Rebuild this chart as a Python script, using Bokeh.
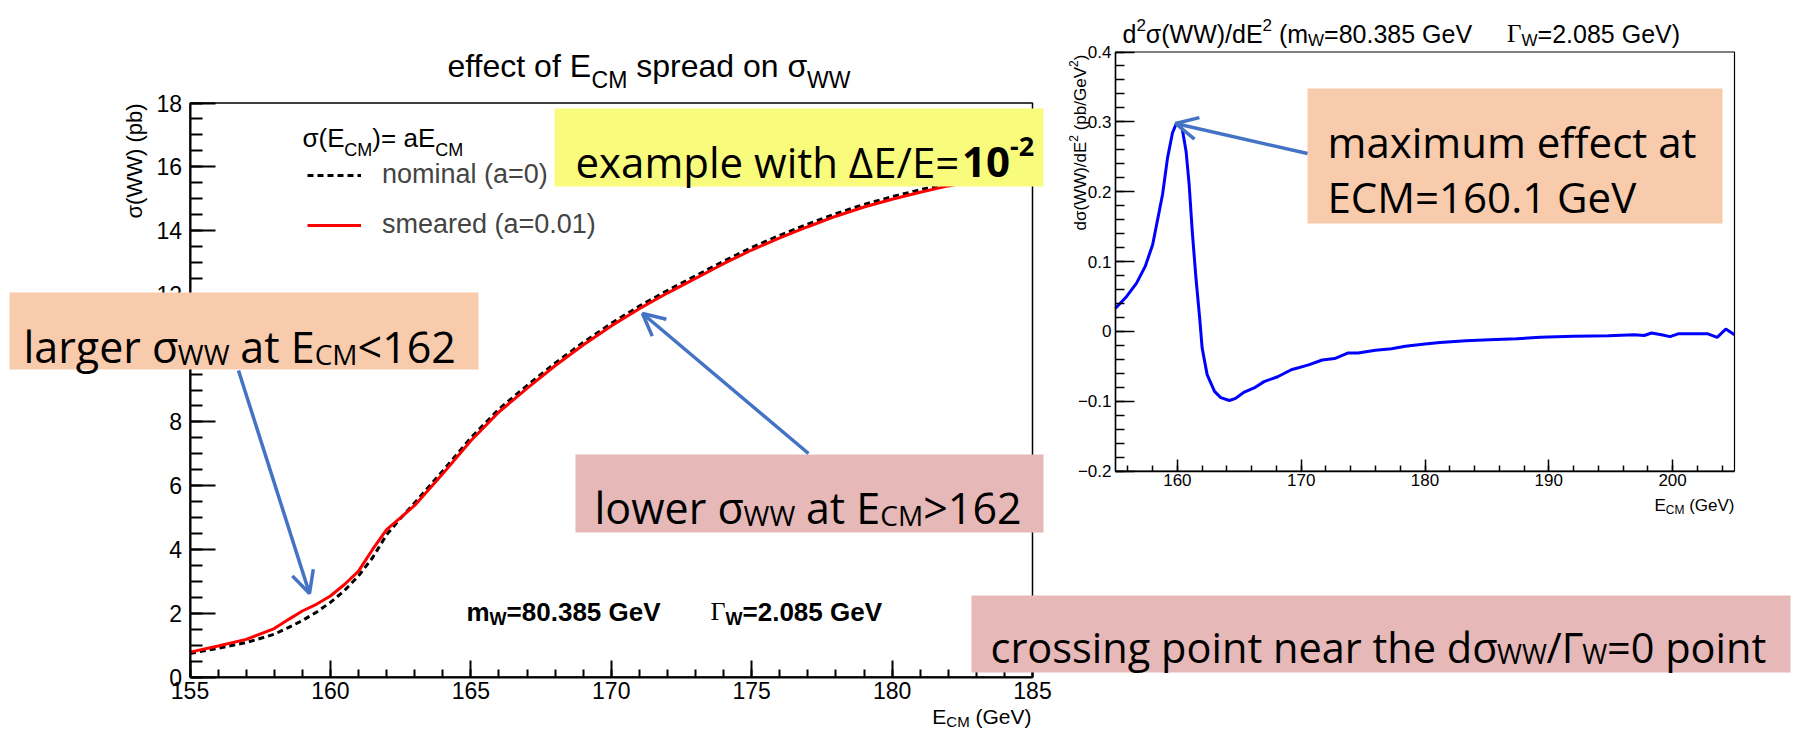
from bokeh.plotting import figure
from bokeh.models import (Range1d, LinearAxis, SingleIntervalTicker, Label, Arrow, OpenHead,
                          Legend, LegendItem, CustomJSTickFormatter, BoxAnnotation)
from bokeh.embed import file_html
from bokeh.resources import INLINE

# ---------------- data ----------------
# left panel: sigma(WW) vs E_CM
E_LEFT = [155, 156, 157, 158, 158.5, 159, 159.5, 160, 160.5, 161, 161.5, 162, 162.5, 163,
          164, 165, 166, 167, 168, 169, 170, 171, 172, 173, 174, 175, 176, 177, 178, 179,
          180, 181, 182, 183, 184, 185]
SIG_NOMINAL = [0.74, 0.90, 1.08, 1.34, 1.55, 1.77, 2.03, 2.34, 2.71, 3.17, 3.74, 4.46, 4.98, 5.46,
               6.46, 7.50, 8.40, 9.14, 9.84, 10.49, 11.09, 11.63, 12.12, 12.58, 13.04, 13.47, 13.85,
               14.20, 14.53, 14.82, 15.06, 15.28, 15.48, 15.66, 15.83, 15.98]
SIG_SMEARED = [0.78, 0.97, 1.18, 1.52, 1.80, 2.07, 2.28, 2.54, 2.90, 3.32, 4.00, 4.62, 5.00, 5.38,
               6.37, 7.41, 8.31, 9.05, 9.76, 10.41, 11.01, 11.55, 12.04, 12.50, 12.96, 13.39, 13.77,
               14.12, 14.45, 14.74, 14.98, 15.20, 15.40, 15.58, 15.75, 15.90]

# right panel: d2 sigma / dE2 vs E_CM
E_RIGHT = [155.0, 155.9, 156.7, 157.4, 158.0, 158.4, 158.8, 159.2, 159.6, 159.9, 160.1, 160.4,
           160.7, 160.95, 161.2, 161.5, 161.8, 162.0, 162.4, 163.0, 163.5, 164.2, 164.7, 165.4,
           166.2, 167.0, 168.1, 169.2, 170.6, 171.7, 172.7, 173.8, 174.6, 176.0, 177.3, 178.4,
           180.0, 181.2, 183.3, 185.2, 187.4, 189.3, 192.0, 194.8, 196.9, 197.7, 198.3, 199.1,
           199.8, 200.5, 202.8, 203.6, 204.3, 205.0]
D2SIG = [0.033, 0.050, 0.069, 0.093, 0.124, 0.160, 0.196, 0.248, 0.284, 0.297, 0.299, 0.289,
         0.258, 0.210, 0.143, 0.076, 0.019, -0.024, -0.062, -0.086, -0.095, -0.099, -0.096, -0.087,
         -0.081, -0.072, -0.065, -0.055, -0.048, -0.041, -0.039, -0.031, -0.031, -0.027, -0.025,
         -0.0215, -0.018, -0.016, -0.0134, -0.012, -0.0105, -0.0086, -0.0072, -0.0062, -0.0048,
         -0.006, -0.0024, -0.0048, -0.0076, -0.0033, -0.0033, -0.0086, 0.0033, -0.0048]

LEFT_X_LIM = (155, 185)
LEFT_Y_LIM = (0, 18)
RIGHT_X_LIM = (155, 205)
RIGHT_Y_LIM = (-0.2, 0.4)

# ---------------- layout helpers ----------------
W, H, M = 1819, 731, 0


def X(x):
    return x - M


def Y(y):
    return H + M - y


def mkrange(v0, v1, s0, s1, total):
    k = (v1 - v0) / (s1 - s0)
    return Range1d(v0 - s0 * k, v0 + (total - s0) * k)


p = figure(width=W, height=H, x_range=Range1d(0, W), y_range=Range1d(0, H),
           x_axis_type=None, y_axis_type=None, toolbar_location=None, output_backend="svg",
           min_border=0, min_border_left=0, min_border_right=0, min_border_top=0,
           min_border_bottom=0)
p.outline_line_color = None
p.background_fill_color = "white"
p.border_fill_color = "white"

# frames (reference pixel positions)
LF = dict(x0=189.5, x1=1032, y0=676.5, y1=102.5)
RF = dict(x0=1115, x1=1734, y0=470.5, y1=51.5)

p.extra_x_ranges = {"lx": mkrange(*LEFT_X_LIM, X(LF["x0"]), X(LF["x1"]), W),
                    "rx": mkrange(*RIGHT_X_LIM, X(RF["x0"]), X(RF["x1"]), W)}
p.extra_y_ranges = {"ly": mkrange(*LEFT_Y_LIM, Y(LF["y0"]), Y(LF["y1"]), H),
                    "ry": mkrange(*RIGHT_Y_LIM, Y(RF["y0"]), Y(RF["y1"]), H)}

# ---------------- text metrics (per-mille em) ----------------
def _table(groups):
    t = {}
    for chars, w in groups:
        for c in chars:
            t[c] = w
    return t


HELV = _table([("0123456789", 556), (" ", 278), ("()", 333), ("=<>", 584), (".,/", 278), ("-", 333),
               ("abdeghnopqu", 556), ("ckvxyzs", 500), ("ft", 278), ("ijl", 222), ("r", 333),
               ("m", 833), ("w", 722), ("ABEKPSVXY", 667), ("CDHNRU", 722), ("GOQ", 778),
               ("FTZ", 611), ("I", 278), ("J", 500), ("L", 556), ("M", 833), ("W", 944),
               ("σ", 610), ("Γ", 556), ("Δ", 668)])
HELVB = _table([("0123456789", 556), (" ", 278), ("()", 333), ("=<>", 584), (".,/", 278), ("-", 333),
                ("aceksvxy", 556), ("bdghnopqu", 611), ("ft", 333), ("ijl", 278), ("r", 389),
                ("m", 889), ("w", 778), ("z", 500), ("EPSVXY", 667), ("ABCDHKNRU", 722),
                ("GOQ", 778), ("FTZ", 611), ("I", 278), ("M", 833), ("W", 944)])
TIMES = _table([("Γ", 578)])
OS = _table([("0123456789", 572), (" ", 260), ("=<>", 572), (".", 266), ("/", 367), ("-", 322),
             ("a", 556), ("bdpnhu", 613), ("c", 476), ("e", 561), ("f", 339), ("g", 548),
             ("il", 253), ("m", 930), ("o", 604), ("r", 408), ("s", 477), ("t", 353), ("w", 784),
             ("x", 524), ("y", 502), ("E", 560), ("C", 631), ("M", 903), ("G", 695), ("V", 580),
             ("W", 915), ("σ", 596), ("Δ", 620), ("Γ", 495)])
METRICS = {("helv", False): HELV, ("helv", True): HELVB, ("times", False): TIMES,
           ("times", True): TIMES, ("os", False): OS, ("os", True): OS}
FONT = {"helv": "Liberation Sans", "times": "Liberation Serif", "os": "Open Sans"}


def tw(text, size, fam, bold):
    tab = METRICS[(fam, bold)]
    return sum(tab.get(c, 556) for c in text) / 1000.0 * size


def seg_width(segs):
    w = 0
    for text, size, dy, fam, bold in segs:
        w += size if text is None else tw(text, size, fam, bold)
    return w


def put(text, x, y, size, fam, bold, angle=0, align="left", baseline="alphabetic"):
    p.add_layout(Label(x=x, y=y, text=text, text_font=FONT[fam], text_font_size=f"{size}px",
                       text_font_style="bold" if bold else "normal", text_align=align,
                       text_baseline=baseline, text_color="black", angle=angle,
                       angle_units="deg"))


def rich(segs, x0, base):
    x = x0
    for text, size, dy, fam, bold in segs:
        if text is None:
            x += size
            continue
        lead = len(text) - len(text.lstrip(" "))
        x += tw(" " * lead, size, fam, bold)
        body = text.strip(" ")
        put(body, X(x), Y(base + dy), size, fam, bold)
        x += tw(body, size, fam, bold) + tw(" " * (len(text) - lead - len(body)), size, fam, bold)
    return x


def rich_rot(segs, xbase, s0):
    s = s0
    for text, size, dy, fam, bold in segs:
        lead = len(text) - len(text.lstrip(" "))
        s -= tw(" " * lead, size, fam, bold)
        body = text.strip(" ")
        put(body, X(xbase + dy), Y(s), size, fam, bold, angle=90)
        s -= tw(body, size, fam, bold)


# ---------------- curves ----------------
r_nom = p.line(E_LEFT, SIG_NOMINAL, x_range_name="lx", y_range_name="ly",
               line_color="black", line_width=3, line_dash="6 4")
r_sm = p.line(E_LEFT, SIG_SMEARED, x_range_name="lx", y_range_name="ly",
              line_color="#FF0000", line_width=3)
p.line(E_RIGHT, D2SIG, x_range_name="rx", y_range_name="ry", line_color="#0000FF", line_width=3)

# frames
p.quad(left=[LEFT_X_LIM[0]], right=[LEFT_X_LIM[1]], bottom=[LEFT_Y_LIM[0]], top=[LEFT_Y_LIM[1]],
       fill_color=None, line_color="black", line_width=1.5, x_range_name="lx", y_range_name="ly")
p.quad(left=[RIGHT_X_LIM[0]], right=[RIGHT_X_LIM[1]], bottom=[RIGHT_Y_LIM[0]], top=[RIGHT_Y_LIM[1]],
       fill_color=None, line_color="black", line_width=1.2, x_range_name="rx", y_range_name="ry")


# ---------------- axes ----------------
def axis(side, xr, yr, loc, lim, interval, nminor, tin, tmin, fs, standoff, lw, fmt=None):
    ax = LinearAxis(x_range_name=xr, y_range_name=yr, fixed_location=loc, bounds=lim,
                    ticker=SingleIntervalTicker(interval=interval, num_minor_ticks=nminor))
    ax.axis_line_color = "black"
    ax.axis_line_width = lw
    ax.major_tick_in = tin
    ax.major_tick_out = 0
    ax.minor_tick_in = tmin
    ax.minor_tick_out = 0
    ax.major_tick_line_color = "black"
    ax.major_tick_line_width = lw
    ax.minor_tick_line_color = "black"
    ax.minor_tick_line_width = lw
    ax.major_label_text_font = "Liberation Sans"
    ax.major_label_text_font_size = f"{fs}px"
    ax.major_label_text_color = "black"
    ax.major_label_standoff = standoff
    if fmt is not None:
        ax.formatter = fmt
    p.add_layout(ax, side)


axis("below", "lx", "ly", LEFT_Y_LIM[0], LEFT_X_LIM, 5, 5, 17, 8, 23, 5, 2)
axis("left", "lx", "ly", LEFT_X_LIM[0], LEFT_Y_LIM, 2, 4, 25, 12, 23, 8, 2)
axis("below", "rx", "ry", RIGHT_Y_LIM[0], RIGHT_X_LIM, 10, 5, 12, 6, 17, 3, 1.5)
minus_fmt = CustomJSTickFormatter(code="""
if (Math.abs(tick) < 1e-9) { return "0"; }
const s = Math.abs(tick).toFixed(1);
return (tick < 0 ? "\u2212" : "") + s;
""")
axis("left", "rx", "ry", RIGHT_X_LIM[0], RIGHT_Y_LIM, 0.1, 5, 19, 9, 17, 4, 1.5, minus_fmt)

# ---------------- ROOT texts ----------------
H_ = "helv"
# left title
rich([("effect of E", 32, 0, H_, False), ("CM", 23, 14, H_, False),
      (" spread on σ", 32, 0, H_, False), ("WW", 23, 14, H_, False)], 447, 65)
# left axis titles
put("σ(WW) (pb)", X(134), Y(103), 22, H_, False, angle=90, align="right", baseline="middle")
xt = [("E", 21, 0, H_, False), ("CM", 15, 5, H_, False), (" (GeV)", 21, 0, H_, False)]
rich(xt, 1031 - seg_width(xt), 716)
# legend header
rich([("σ(E", 26, 0, H_, False), ("CM", 18, 12, H_, False), (")= aE", 26, 0, H_, False),
      ("CM", 18, 12, H_, False)], 302, 137)
# parameters
rich([("m", 26, 0, H_, True), ("W", 18, 7, H_, True), ("=80.385 GeV", 26, 0, H_, True)], 466, 611)
rich([("Γ", 26, 0, "times", False), ("W", 18, 7, H_, True), ("=2.085 GeV", 26, 0, H_, True)], 710, 611)

# right title
rich([("d", 25, 0, H_, False), ("2", 17, -9, H_, False), ("σ(WW)/dE", 25, 0, H_, False),
      ("2", 17, -9, H_, False), (" (m", 25, 0, H_, False), ("W", 17, 7, H_, False),
      ("=80.385 GeV", 25, 0, H_, False), (None, 35, 0, H_, False),
      ("Γ", 25, 0, "times", False), ("W", 17, 7, H_, False),
      ("=2.085 GeV)", 25, 0, H_, False)], 1122, 33)
# right axis titles
rich_rot([("dσ(WW)/dE", 17, 0, H_, False), ("2", 12, -7, H_, False), (" (pb/GeV", 17, 0, H_, False),
          ("2", 12, -7, H_, False), (")", 17, 0, H_, False)], 1080, 230)
xt2 = [("E", 17, 0, H_, False), ("CM", 12, 4, H_, False), (" (GeV)", 17, 0, H_, False)]
rich(xt2, 1734 - seg_width(xt2), 505)

# legend
leg = Legend(items=[LegendItem(label="nominal (a=0)", renderers=[r_nom]),
                    LegendItem(label="smeared (a=0.01)", renderers=[r_sm])],
             location=(X(307), Y(240)), orientation="vertical", glyph_width=54, glyph_height=30,
             label_height=30, label_standoff=21, spacing=19, padding=0, margin=0,
             label_text_font="Liberation Sans", label_text_font_size="27px",
             border_line_alpha=0, background_fill_alpha=0)
p.add_layout(leg)

# ---------------- slide annotation boxes ----------------
PEACH, PINK, YELLOW, BLUE = "#F8CBAD", "#E6B8B7", "#F9FB7C", "#4472C4"


def box(x0, y0, x1, y1, color):
    p.add_layout(BoxAnnotation(left=X(x0), right=X(x1), top=Y(y0), bottom=Y(y1),
                               fill_color=color, fill_alpha=1.0, line_alpha=0))


O = "os"
box(9, 292, 478, 369, PEACH)
rich([("larger σ", 43, 0, O, False), ("WW", 28, 7, O, False), (" at E", 43, 0, O, False),
      ("CM", 28, 7, O, False), ("<162", 43, 0, O, False)], 23, 346)

box(575, 454, 1043, 532, PINK)
rich([("lower σ", 43, 0, O, False), ("WW", 28, 7, O, False), (" at E", 43, 0, O, False),
      ("CM", 28, 7, O, False), (">162", 43, 0, O, False)], 594, 507)

box(554, 108, 1043, 186, YELLOW)
rich([("example with ΔE/E=", 42, 0, O, False), ("10", 42, 0, O, True), ("-2", 27, -15, O, True)],
     575, 161)

box(1307, 88, 1722, 223, PEACH)
rich([("maximum effect at", 42, 0, O, False)], 1327, 141)
rich([("ECM=160.1 GeV", 42, 0, O, False)], 1327, 196)

box(971, 595, 1790, 672, PINK)
rich([("crossing point near the dσ", 41.5, 0, O, False), ("WW", 27, 7, O, False),
      ("/Γ", 41.5, 0, O, False), ("W", 27, 7, O, False), ("=0 point", 41.5, 0, O, False)], 990, 646)

# arrows
for (xs, ys, xe, ye) in [(238, 370, 309, 593), (808, 453, 642, 313), (1307, 153, 1175, 123)]:
    p.add_layout(Arrow(x_start=X(xs), y_start=Y(ys), x_end=X(xe), y_end=Y(ye),
                       line_color=BLUE, line_width=3.5,
                       end=OpenHead(size=22, line_color=BLUE, line_width=3.5)))

with open("out.html", "w", encoding="utf-8") as f:
    f.write(file_html(p, INLINE))
